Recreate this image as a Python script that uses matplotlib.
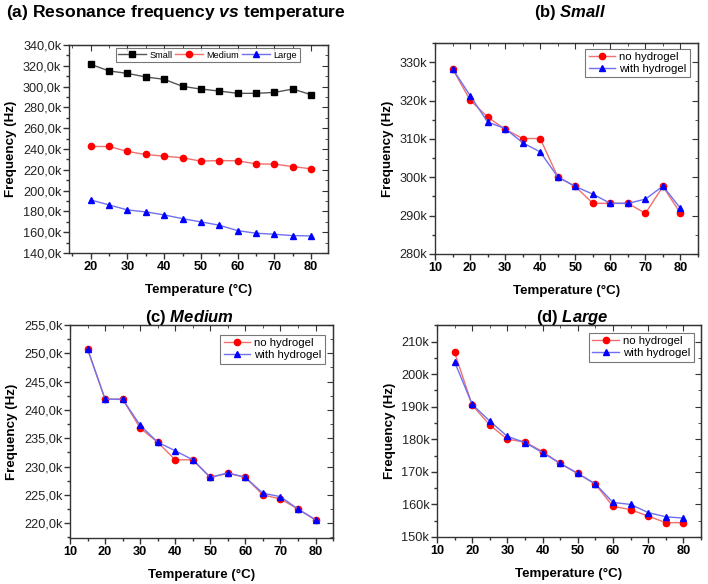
import matplotlib as mpl
mpl.use('agg')
import matplotlib.pyplot as plt
from matplotlib.ticker import MultipleLocator, FuncFormatter

plt.rcParams['font.family'] = ['Liberation Sans', 'DejaVu Sans']
plt.rcParams['mathtext.fontset'] = 'custom'
plt.rcParams['mathtext.it'] = 'Liberation Sans:italic:bold'
plt.rcParams['mathtext.rm'] = 'Liberation Sans:bold'

# temperatures (°C)
temp_all = [15, 20, 25, 30, 35, 40, 45, 50, 55, 60, 65, 70, 75, 80]
temp_a = [20, 25, 30, 35, 40, 45, 50, 55, 60, 65, 70, 75, 80]

# panel (a): resonance frequency (kHz) per size
small_a = [321.4, 315.0, 312.7, 309.2, 307.0, 300.2, 297.6, 295.7, 293.5, 293.5, 294.4, 297.6, 292.2]
medium_a = [242.4, 242.4, 237.6, 234.7, 233.1, 231.5, 228.3, 228.9, 228.6, 225.7, 225.4, 223.1, 220.9]
large_a = [191.0, 186.2, 181.4, 179.5, 176.6, 173.0, 169.9, 166.7, 161.5, 159.0, 158.0, 156.7, 156.4]

# panels (b)-(d): no hydrogel / with hydrogel (kHz)
small_no = [328.3, 320.1, 315.7, 312.5, 310.1, 310.1, 300.1, 297.6, 293.2, 293.2, 293.2, 290.6, 297.6, 290.6]
small_with = [328.3, 321.3, 314.4, 312.7, 309.0, 306.6, 300.1, 297.6, 295.6, 293.2, 293.2, 294.3, 297.7, 291.9]
medium_no = [250.75, 241.9, 241.9, 236.8, 234.3, 231.2, 231.2, 228.1, 228.8, 228.1, 225.0, 224.3, 222.5, 220.6]
medium_with = [250.75, 241.9, 241.9, 237.3, 234.3, 232.8, 231.2, 228.1, 228.9, 228.1, 225.3, 224.7, 222.5, 220.6]
large_no = [206.7, 190.5, 184.4, 180.0, 179.2, 176.2, 172.6, 169.5, 166.2, 159.4, 158.4, 156.4, 154.4, 154.4]
large_with = [203.8, 190.7, 185.6, 180.9, 179.0, 175.9, 172.6, 169.5, 166.3, 160.6, 160.0, 157.5, 156.2, 155.8]


def khz(vals):
    return [v * 1000 for v in vals]


def fmt_dec(v, pos):
    return ("%.1fk" % (v / 1000)).replace('.', ',')


def fmt_int(v, pos):
    return "%.0fk" % (v / 1000)


def style_axes(ax, xlim, ylim, ymajor, yminor, yfmt):
    ax.set_xlim(*xlim)
    ax.set_ylim(*ylim)
    ax.xaxis.set_major_locator(MultipleLocator(10))
    ax.xaxis.set_minor_locator(MultipleLocator(5))
    ax.yaxis.set_major_locator(MultipleLocator(ymajor))
    ax.yaxis.set_minor_locator(MultipleLocator(yminor))
    ax.yaxis.set_major_formatter(FuncFormatter(yfmt))
    for s in ax.spines.values():
        s.set_color('#333333')
        s.set_linewidth(1.0)
    ax.tick_params(which='both', direction='out', top=False, right=False, color='#333333')
    ax.tick_params(which='major', length=4, width=1)
    ax.tick_params(which='minor', length=2.5, width=1)
    ax.tick_params(axis='y', labelsize=9.2, pad=1.5, labelcolor='#222222')
    ax.tick_params(axis='x', labelsize=9.2, pad=2)
    for lbl in ax.get_xticklabels():
        lbl.set_fontweight('bold')
    # inward ticks on top/right (Origin style)
    tx = ax.secondary_xaxis('top')
    tx.xaxis.set_major_locator(MultipleLocator(10))
    tx.xaxis.set_minor_locator(MultipleLocator(5))
    tx.tick_params(which='both', direction='in', labeltop=False, color='#333333')
    tx.tick_params(which='major', length=4)
    tx.tick_params(which='minor', length=2.5)
    ty = ax.secondary_yaxis('right')
    ty.yaxis.set_major_locator(MultipleLocator(ymajor))
    ty.yaxis.set_minor_locator(MultipleLocator(yminor))
    ty.tick_params(which='both', direction='in', labelright=False, color='#333333')
    ty.tick_params(which='major', length=4)
    ty.tick_params(which='minor', length=2.5)
    ax.set_xlabel('Temperature (°C)', fontsize=9.6, fontweight='bold', labelpad=8)
    ax.set_ylabel('Frequency (Hz)', fontsize=9.6, fontweight='bold', labelpad=4)


fig = plt.figure(figsize=(7.08, 5.84), dpi=100)

# (a)
ax = fig.add_axes([0.0975, 0.5668, 0.3658, 0.3562])
ax.plot(temp_a, khz(small_a), color='#555555', lw=1, marker='s', ms=4.5, mfc='black', mec='black', label='Small')
ax.plot(temp_a, khz(medium_a), color='#f07070', lw=1, marker='o', ms=4.5, mfc='red', mec='red', label='Medium')
ax.plot(temp_a, khz(large_a), color='#7070f0', lw=1, marker='^', ms=4.5, mfc='blue', mec='blue', label='Large')
style_axes(ax, (14.1, 84.6), (140000, 340000), 20000, 10000, fmt_dec)
leg = ax.legend(loc='upper center', ncol=3, fontsize=6.6, frameon=True, fancybox=False,
                edgecolor='#555555', borderpad=0.3, handlelength=3, columnspacing=0.3,
                handletextpad=0.4, bbox_to_anchor=(0.535, 0.995), borderaxespad=0.2)
leg.get_frame().set_linewidth(0.8)
fig.text(0.249, 0.979, r'(a) Resonance frequency $\mathit{vs}$ temperature', fontsize=12.6,
         fontweight='bold', ha='center', va='center')

panels = [
    ([0.6144, 0.5651, 0.3715, 0.3613], small_no, small_with, (280000, 335000), 10000, 5000, fmt_int,
     r'(b) $\mathit{Small}$', 0.806, 0.978, (0.97, 0.972)),
    ([0.0989, 0.0788, 0.3715, 0.3647], medium_no, medium_with, (217400, 255000), 5000, 2500, fmt_dec,
     r'(c) $\mathit{Medium}$', 0.268, 0.457, (0.97, 0.953)),
    ([0.6172, 0.0805, 0.3729, 0.363], large_no, large_with, (150000, 215100), 10000, 5000, fmt_int,
     r'(d) $\mathit{Large}$', 0.808, 0.457, (0.973, 0.962)),
]

for rect, no_h, with_h, ylim, ymaj, ymin, yfmt, title, tx, ty, anchor in panels:
    ax = fig.add_axes(rect)
    ax.plot(temp_all, khz(no_h), color='#f07070', lw=1, marker='o', ms=4.5, mfc='red', mec='red', label='no hydrogel')
    ax.plot(temp_all, khz(with_h), color='#7070f0', lw=1, marker='^', ms=4.5, mfc='blue', mec='blue', label='with hydrogel')
    style_axes(ax, (10, 85), ylim, ymaj, ymin, yfmt)
    leg = ax.legend(loc='upper right', fontsize=8.2, frameon=True, fancybox=False, edgecolor='#555555',
                    borderpad=0.3, handlelength=2.3, handletextpad=0.4, labelspacing=0.15,
                    bbox_to_anchor=anchor, borderaxespad=0)
    leg.get_frame().set_linewidth(0.8)
    fig.text(tx, ty, title, fontsize=12, fontweight='bold', ha='center', va='center')

plt.savefig('out.png', dpi=100)
